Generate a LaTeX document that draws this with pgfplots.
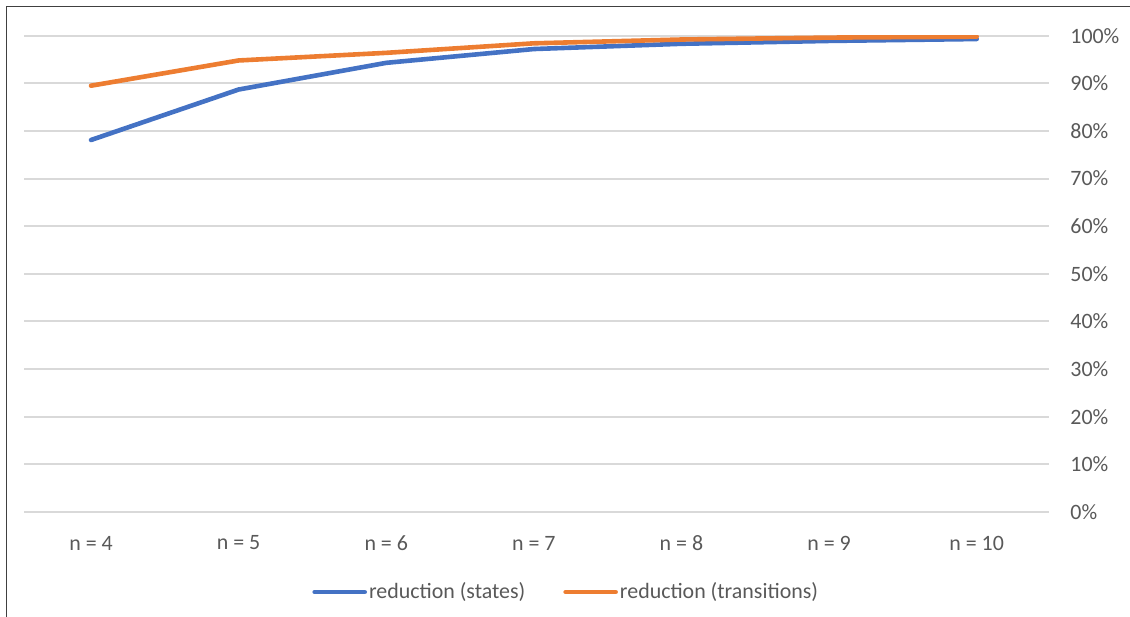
\documentclass[border=0pt]{standalone}
\usepackage{pgfplots}
\pgfplotsset{compat=1.18}
\usepackage{fontspec}
\setmainfont{Carlito}
\definecolor{sblue}{HTML}{4472C4}
\definecolor{sorange}{HTML}{ED7D31}
\definecolor{gridc}{HTML}{D9D9D9}
\definecolor{txt}{HTML}{595959}
\definecolor{framec}{HTML}{404040}

\pgfplotstableread{
x states transitions
0 78.1 89.5
1 88.7 94.8
2 94.3 96.4
3 97.2 98.4
4 98.3 99.2
5 98.9 99.6
6 99.3 99.8
}\reduction

\begin{document}
\begin{tikzpicture}
\useasboundingbox (0,0) rectangle (565bp,308.5bp);
\draw[framec, line width=0.7bp] (3.15bp,-1bp) -- (3.15bp,305.35bp) -- (566bp,305.35bp);
\begin{axis}[
  at={(12bp,52.5bp)}, anchor=south west,
  scale only axis,
  width=512.5bp, height=238.15bp,
  xmin=-0.454, xmax=6.49,
  ymin=0, ymax=100,
  axis line style={draw=none},
  tick style={draw=none},
  major tick length=0pt,
  ymajorgrids,
  grid style={gridc, line width=1bp},
  ytick={0,10,...,100},
  yticklabels={0\%,10\%,20\%,30\%,40\%,50\%,60\%,70\%,80\%,90\%,100\%},
  yticklabel pos=right,
  yticklabel style={anchor=west, inner sep=0pt, xshift=10.5bp},
  xtick=data,
  xticklabels={n = 4,n = 5,n = 6,n = 7,n = 8,n = 9,n = 10},
  xticklabel style={anchor=center, inner sep=0pt, yshift=-15.5bp},
  ticklabel style={font=\fontsize{11}{13}\selectfont, text=txt},
  legend columns=2,
  legend style={draw=none, fill=none, at={(0.529,-0.168)}, anchor=center,
    font=\fontsize{11}{13}\selectfont, text=txt,
    inner sep=0pt,
    /tikz/every even column/.append style={column sep=18bp},
    nodes={inner sep=1bp}},
  legend image code/.code={\draw[#1, line cap=round] (0bp,0bp) -- (25bp,0bp);},
]
\addplot[sblue, line width=2.3bp, line cap=round, line join=round] table[x=x, y=states] {\reduction};
\addlegendentry{reduction (states)}
\addplot[sorange, line width=2.3bp, line cap=round, line join=round] table[x=x, y=transitions] {\reduction};
\addlegendentry{reduction (transitions)}
\end{axis}
\end{tikzpicture}
\end{document}
